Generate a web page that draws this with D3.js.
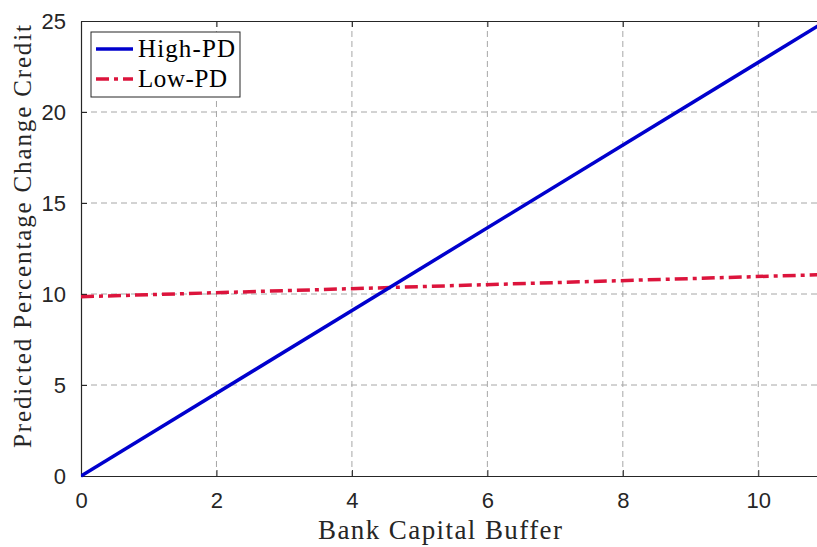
<!DOCTYPE html>
<html>
<head>
<meta charset="utf-8">
<script src="https://d3js.org/d3.v7.min.js"></script>
<style>
  body { margin: 0; background: #fff; }
  svg { display: block; }
</style>
</head>
<body>
<div id="chart"></div>
<script>
// Data
const buffer = [0, 11];
const highPD = [0, 25.0];
const lowPD = [9.85, 11.07];
const xTicks = [0, 2, 4, 6, 8, 10];
const yTicks = [0, 5, 10, 15, 20, 25];
const seriesNames = ["High-PD", "Low-PD"];

const W = 817, H = 547;
const margin = { top: 21, right: 0, bottom: 71, left: 81 };
const width = 745, height = H - margin.top - margin.bottom;

const svg = d3.select("#chart").append("svg")
    .attr("width", W).attr("height", H);

const g = svg.append("g")
    .attr("transform", `translate(${margin.left},${margin.top})`);

const x = d3.scaleLinear().domain([0, 11]).range([0, width]);
const y = d3.scaleLinear().domain([0, 25]).range([height, 0]);

// grid
g.append("g").selectAll("line").data(xTicks.filter(d => d > 0)).join("line")
    .attr("x1", d => x(d)).attr("x2", d => x(d))
    .attr("y1", 0).attr("y2", height)
    .attr("stroke", "#a6a6a6").attr("stroke-width", 1)
    .attr("stroke-dasharray", "6,4");
g.append("g").selectAll("line").data(yTicks.filter(d => d > 0 && d < 25)).join("line")
    .attr("x1", 0).attr("x2", width)
    .attr("y1", d => y(d)).attr("y2", d => y(d))
    .attr("stroke", "#a6a6a6").attr("stroke-width", 1)
    .attr("stroke-dasharray", "6,4");

// axes
const axisColor = "#262626";
const xAxis = g.append("g").attr("transform", `translate(0,${height})`)
    .call(d3.axisBottom(x).tickValues(xTicks).tickSizeInner(-6).tickSizeOuter(0).tickPadding(16));
const xTop = g.append("g")
    .call(d3.axisTop(x).tickValues(xTicks).tickSizeInner(-6).tickSizeOuter(0).tickFormat(""));
const yAxis = g.append("g")
    .call(d3.axisLeft(y).tickValues(yTicks).tickSizeInner(-6).tickSizeOuter(0).tickPadding(15));

[xAxis, xTop, yAxis].forEach(a => {
    a.select(".domain").attr("stroke", axisColor).attr("stroke-width", 1.2);
    a.selectAll(".tick line").attr("stroke", axisColor);
    a.selectAll(".tick text")
        .attr("fill", "#262626")
        .style("font-family", "'Liberation Sans', Arial, sans-serif")
        .style("font-size", "22px");
});

// lines
const line = vals => d3.line()
    .x((d, i) => x(buffer[i]))
    .y(d => y(d))(vals);

svg.append("clipPath").attr("id", "clip")
    .append("rect").attr("x", 0).attr("y", -5).attr("width", width).attr("height", height + 10);

g.append("path")
    .attr("d", line(lowPD))
    .attr("fill", "none")
    .attr("stroke", "#dc143c")
    .attr("stroke-width", 3.5)
    .attr("stroke-dasharray", "13,5,4,5")
    .attr("clip-path", "url(#clip)");

g.append("path")
    .attr("d", line(highPD))
    .attr("fill", "none")
    .attr("stroke", "#0000cd")
    .attr("stroke-width", 3.5)
    .attr("clip-path", "url(#clip)");

// axis labels
const serif = "'Liberation Serif', 'Times New Roman', serif";
svg.append("text")
    .attr("x", 318).attr("y", 539)
    .attr("textLength", 244).attr("lengthAdjust", "spacing")
    .style("font-family", serif)
    .style("font-size", "27px")
    .attr("fill", "#262626")
    .text("Bank Capital Buffer");

svg.append("text")
    .attr("transform", "translate(31,448) rotate(-90)")
    .attr("textLength", 423).attr("lengthAdjust", "spacing")
    .style("font-family", serif)
    .style("font-size", "25px")
    .attr("fill", "#262626")
    .text("Predicted Percentage Change Credit");

// legend
const legend = svg.append("g").attr("transform", "translate(91,32)");
legend.append("rect")
    .attr("width", 149).attr("height", 65)
    .attr("fill", "#fff").attr("stroke", "#262626").attr("stroke-width", 1);

const styles = [
    { color: "#0000cd", dash: null, len: 97 },
    { color: "#dc143c", dash: "13,5,4,5", len: 89 }
];
seriesNames.forEach((name, i) => {
    const yy = 17 + i * 30;
    legend.append("line")
        .attr("x1", 5).attr("x2", 42).attr("y1", yy).attr("y2", yy)
        .attr("stroke", styles[i].color).attr("stroke-width", 3.5)
        .attr("stroke-dasharray", styles[i].dash);
    legend.append("text")
        .attr("x", 47).attr("y", yy + 8)
        .attr("textLength", styles[i].len).attr("lengthAdjust", "spacing")
        .style("font-family", serif)
        .style("font-size", "25px")
        .attr("fill", "#000")
        .text(name);
});
</script>
</body>
</html>
